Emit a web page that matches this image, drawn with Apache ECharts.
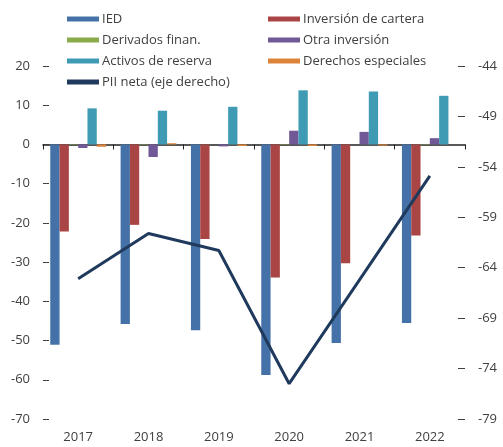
<!DOCTYPE html>
<html>
<head>
<meta charset="utf-8">
<script src="https://cdn.jsdelivr.net/npm/echarts@6/dist/echarts.min.js"></script>
<style>
  html, body { margin: 0; padding: 0; background: #fff; }
  #chart { width: 503px; height: 447px; }
</style>
</head>
<body>
<div id="chart"></div>
<script>
// datos
const years = ["2017", "2018", "2019", "2020", "2021", "2022"];
const ied = [-51.1, -45.8, -47.4, -58.8, -50.6, -45.5];
const inversionCartera = [-22.2, -20.5, -24.1, -33.9, -30.3, -23.2];
const derivados = [0.1, 0.1, 0.0, 0.1, 0.0, 0.1];
const otraInversion = [-0.9, -3.2, -0.5, 3.5, 3.2, 1.6];
const activosReserva = [9.2, 8.6, 9.6, 13.8, 13.5, 12.4];
const derechosEspeciales = [-0.6, 0.3, -0.4, -0.4, -0.3, 0.0];
const piiNeta = [-65.1, -60.6, -62.3, -75.5, -65.2, -54.9];

// ejes
const leftTicks = { min: -70, max: 20, interval: 10 };
const rightTicks = { min: -79, max: -44, interval: 5 };

const textColor = "#404040";
const fontFamily = "'Open Sans', sans-serif";

function barSeries(name, data, color) {
  return {
    name: name,
    type: "bar",
    data: data,
    barWidth: 9.3,
    barGap: "0%",
    itemStyle: { color: color },
    xAxisIndex: 0,
    yAxisIndex: 0
  };
}

function legendBlock(left, names) {
  return {
    left: left,
    top: 7,
    orient: "vertical",
    itemWidth: 32,
    itemHeight: 5,
    itemGap: 7,
    icon: "rect",
    selectedMode: false,
    textStyle: { color: textColor, fontSize: 13, fontFamily: fontFamily, lineHeight: 14, padding: [0, 0, 0, -2] },
    data: names
  };
}

const chart = echarts.init(document.getElementById("chart"));
chart.setOption({
  animation: false,
  textStyle: { fontFamily: fontFamily },
  legend: [
    legendBlock(62, ["IED", "Derivados finan.", "Activos de reserva", "PII neta (eje derecho)"]),
    legendBlock(263, ["Inversión de cartera", "Otra inversión", "Derechos especiales"])
  ],
  grid: { left: 43, right: 38, top: 66, bottom: 28 },
  xAxis: [
    {
      // etiquetas abajo
      type: "category",
      data: years,
      position: "bottom",
      axisLine: { show: false, onZero: false },
      axisTick: { show: false },
      axisLabel: { color: textColor, fontSize: 13, margin: 12 }
    },
    {
      // linea del cero
      type: "category",
      data: years,
      position: "bottom",
      axisLine: { show: true, onZero: true, onZeroAxisIndex: 0, lineStyle: { color: "#222", width: 1.5 } },
      axisTick: { show: true, length: 5, lineStyle: { color: "#222" } },
      axisLabel: { show: false }
    }
  ],
  yAxis: [
    {
      type: "value",
      min: leftTicks.min,
      max: leftTicks.max,
      interval: leftTicks.interval,
      axisLine: { show: false },
      axisTick: { show: true, inside: true, length: 6, lineStyle: { color: textColor } },
      axisLabel: { color: textColor, fontSize: 13, margin: 13 },
      splitLine: { show: false }
    },
    {
      type: "value",
      position: "right",
      min: rightTicks.min,
      max: rightTicks.max,
      interval: rightTicks.interval,
      axisLine: { show: false },
      axisTick: { show: true, inside: true, length: 7, lineStyle: { color: textColor } },
      axisLabel: { color: textColor, fontSize: 13, margin: 13 },
      splitLine: { show: false }
    }
  ],
  series: [
    barSeries("IED", ied, "#4472a8"),
    barSeries("Inversión de cartera", inversionCartera, "#a94545"),
    barSeries("Derivados finan.", derivados, "#8aab4b"),
    barSeries("Otra inversión", otraInversion, "#715896"),
    barSeries("Activos de reserva", activosReserva, "#3f9bb3"),
    barSeries("Derechos especiales", derechosEspeciales, "#dc843a"),
    {
      name: "PII neta (eje derecho)",
      type: "line",
      data: piiNeta,
      yAxisIndex: 1,
      xAxisIndex: 0,
      showSymbol: false,
      symbol: "none",
      z: 5,
      lineStyle: { color: "#1f3a5c", width: 3 },
      itemStyle: { color: "#1f3a5c" }
    }
  ]
});
</script>
</body>
</html>
